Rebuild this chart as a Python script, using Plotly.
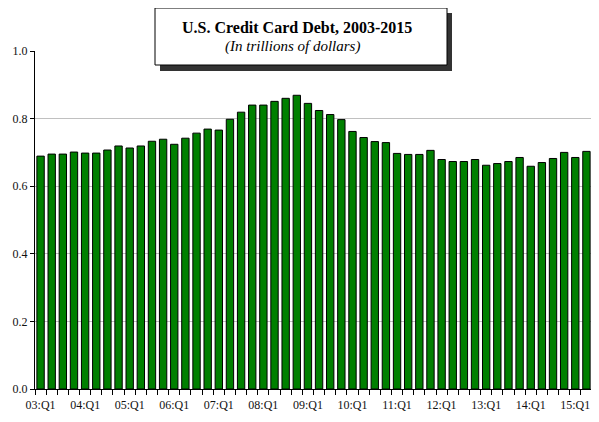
import plotly.graph_objects as go

# Quarters 2003Q1 .. 2015Q2
years = list(range(3, 16))
quarters = [f"{y:02d}:Q{q}" for y in years for q in range(1, 5)][:50]

debt = [0.689, 0.695, 0.695, 0.701, 0.698, 0.698, 0.707, 0.719, 0.713, 0.719,
        0.733, 0.739, 0.724, 0.742, 0.757, 0.769, 0.766, 0.798, 0.819, 0.840,
        0.840, 0.851, 0.860, 0.869, 0.845, 0.824, 0.812, 0.797, 0.762, 0.744,
        0.732, 0.729, 0.697, 0.694, 0.694, 0.706, 0.679, 0.673, 0.673, 0.679,
        0.662, 0.667, 0.673, 0.685, 0.659, 0.670, 0.682, 0.700, 0.685, 0.703]

label_idx = [i for i, q in enumerate(quarters) if q.endswith("Q1")]
label_text = [quarters[i] for i in label_idx]
y_ticks = [0.0, 0.2, 0.4, 0.6, 0.8, 1.0]

title_text = "<b>U.S. Credit Card Debt, 2003-2015</b>"
subtitle_text = "<i>(In trillions of dollars)</i>"

xpos = list(range(len(quarters)))

fig = go.Figure(go.Bar(
    x=xpos, y=debt,
    marker=dict(color="#008000", line=dict(color="black", width=1)),
    hovertext=quarters,
))

# page is offset by the default 8px body margin
OFF = 8
PW, PH = 599, 422
PL, PR, PT, PB = 35, 7, 51, 33          # plot area in page pixels
W, H = PW - OFF, PH - OFF
pw, ph = PW - PL - PR, PH - PT - PB

def px_x(p):
    return (p - PL) / pw

def px_y(p):
    return (PH - PB - p) / ph

font_family = "Liberation Serif, Times New Roman, serif"

fig.update_layout(
    width=W, height=H,
    margin=dict(l=PL - OFF, r=PR, t=PT - OFF, b=PB, autoexpand=False),
    paper_bgcolor="white", plot_bgcolor="white",
    showlegend=False,
    bargap=0.34,
    font=dict(family=font_family, size=12, color="#111"),
    xaxis=dict(
        range=[-0.5, len(quarters) - 0.5],
        tickmode="array", tickvals=label_idx, ticktext=label_text,
        ticks="outside", ticklen=5, tickcolor="rgba(0,0,0,0)",
        showgrid=False, zeroline=False,
        showline=True, linecolor="black", linewidth=1,
        minor=dict(tickmode="linear", tick0=-0.5, dtick=1, ticks="outside",
                   ticklen=5, tickcolor="black", tickwidth=1, showgrid=False),
        tickfont=dict(family=font_family, size=12, color="#111"),
    ),
    yaxis=dict(
        range=[0, 1.0],
        tickmode="array", tickvals=y_ticks, tickformat=".1f",
        ticks="outside", ticklen=4, tickcolor="black",
        showgrid=True, gridcolor="#c0c0c0", gridwidth=1,
        zeroline=False,
        showline=True, linecolor="black", linewidth=1,
        tickfont=dict(family=font_family, size=12, color="#111"),
    ),
    shapes=[
        dict(type="line", xref="paper", yref="paper", x0=1, x1=1, y0=0, y1=1,
             line=dict(color="#a0a0a0", width=1), layer="above"),
        dict(type="rect", xref="paper", yref="paper",
             x0=px_x(160), x1=px_x(452), y0=px_y(71), y1=px_y(13),
             fillcolor="#333333", line=dict(width=0), layer="above"),
        dict(type="rect", xref="paper", yref="paper",
             x0=px_x(155), x1=px_x(447), y0=px_y(65), y1=px_y(8),
             fillcolor="white", line=dict(color="black", width=1), layer="above"),
    ],
    annotations=[
        dict(text=title_text, xref="paper", yref="paper",
             x=px_x(297), y=px_y(27), xanchor="center", yanchor="middle",
             showarrow=False, font=dict(family=font_family, size=16, color="black")),
        dict(text=subtitle_text, xref="paper", yref="paper",
             x=px_x(292), y=px_y(47), xanchor="center", yanchor="middle",
             showarrow=False, font=dict(family=font_family, size=15, color="black")),
    ],
)

fig.write_html("out.html")
